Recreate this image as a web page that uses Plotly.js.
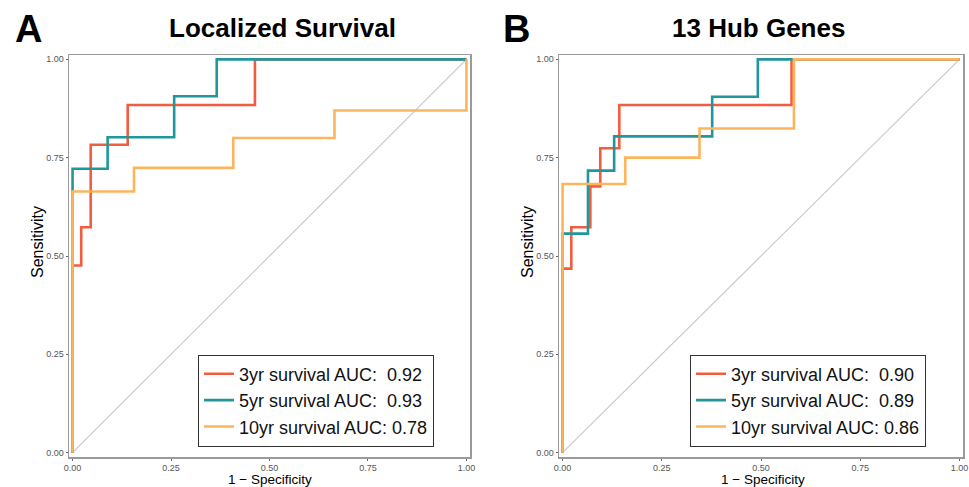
<!DOCTYPE html>
<html><head><meta charset="utf-8">
<script src="https://cdn.plot.ly/plotly-3.0.1.min.js"></script>
<style>html,body{margin:0;padding:0;background:#fff}#chart{width:969px;height:487px}</style>
</head><body><div id="chart"></div>
<script>
// Panel A: Localized Survival ROC points (FPR = 1 - specificity, TPR = sensitivity)
const fprA3 = [0, 0, 0.022, 0.046, 0.14, 0.463, 1];
const tprA3 = [0, 0.476, 0.573, 0.783, 0.884, 1, 1];
const fprA5 = [0, 0, 0.089, 0.258, 0.366, 1];
const tprA5 = [0, 0.722, 0.802, 0.906, 1, 1];
const fprA10 = [0, 0, 0.156, 0.408, 0.665, 1];
const tprA10 = [0, 0.664, 0.724, 0.80, 0.870, 1];
// Panel B: 13 Hub Genes
const fprB3 = [0, 0, 0.022, 0.07, 0.095, 0.143, 0.577, 1];
const tprB3 = [0, 0.468, 0.573, 0.677, 0.774, 0.884, 1, 1];
const fprB5 = [0, 0, 0.064, 0.13, 0.377, 0.492, 1];
const tprB5 = [0, 0.557, 0.717, 0.804, 0.905, 1, 1];
const fprB10 = [0, 0, 0.158, 0.345, 0.583, 1];
const tprB10 = [0, 0.683, 0.750, 0.824, 1, 1];

const labelsA = ["3yr survival AUC:\u00a0\u00a00.92", "5yr survival AUC:\u00a0\u00a00.93", "10yr survival AUC:\u00a00.78"];
const labelsB = ["3yr survival AUC:\u00a0\u00a00.90", "5yr survival AUC:\u00a0\u00a00.89", "10yr survival AUC:\u00a00.86"];
const panelTitles = ["Localized Survival", "13 Hub Genes"];
const panelLetters = ["A", "B"];
const xTitle = "1 \u2212 Specificity";
const yTitle = "Sensitivity";
const tickVals = [0, 0.25, 0.5, 0.75, 1];
const tickText = ["0.00", "0.25", "0.50", "0.75", "1.00"];
const diag = [0, 1];

const colors = ["#f45c3f", "#21979c", "#fdb55c"];
const FONT = "Liberation Sans, Arial, Helvetica, sans-serif";

function rocTrace(x, y, name, color, xa, ya, leg) {
  return {x: x, y: y, name: name, type: "scatter", mode: "lines",
    line: {color: color, width: 2.6, shape: "hv"}, xaxis: xa, yaxis: ya, legend: leg, hoverinfo: "skip"};
}
function diagTrace(xa, ya) {
  return {x: diag, y: diag, type: "scatter", mode: "lines", showlegend: false,
    line: {color: "#c9c9c9", width: 1.2}, xaxis: xa, yaxis: ya, hoverinfo: "skip"};
}

const data = [
  diagTrace("x", "y"),
  rocTrace(fprA3, tprA3, labelsA[0], colors[0], "x", "y", "legend"),
  rocTrace(fprA5, tprA5, labelsA[1], colors[1], "x", "y", "legend"),
  rocTrace(fprA10, tprA10, labelsA[2], colors[2], "x", "y", "legend"),
  diagTrace("x2", "y2"),
  rocTrace(fprB3, tprB3, labelsB[0], colors[0], "x2", "y2", "legend2"),
  rocTrace(fprB5, tprB5, labelsB[1], colors[1], "x2", "y2", "legend2"),
  rocTrace(fprB10, tprB10, labelsB[2], colors[2], "x2", "y2", "legend2")
];

function axisBase(domain, anchor, range) {
  return {domain: domain, anchor: anchor, range: range, tickvals: tickVals, ticktext: tickText,
    showgrid: false, zeroline: false, showline: true, mirror: true, linecolor: "#9a9a9a", linewidth: 1.5,
    ticks: "outside", ticklen: 2, tickcolor: "#666", tickwidth: 1,
    tickfont: {family: FONT, size: 9, color: "#555"}};
}
const yDom = [1 - 457/487, 1 - 55/487];

const legendStyle = {
  bgcolor: "#fff", bordercolor: "#333", borderwidth: 1,
  font: {family: FONT, size: 18, color: "#111"},
  xanchor: "left", yanchor: "middle", tracegroupgap: 0, itemwidth: 30, itemclick: false, itemdoubleclick: false
};

function ann(text, x, y, size, angle) {
  return {text: text, x: x, y: y, xref: "paper", yref: "paper", showarrow: false, textangle: angle || 0,
    borderpad: 0, xanchor: "center", yanchor: "middle", font: {family: FONT, size: size, color: "#000"}};
}

const layout = {
  width: 969, height: 487,
  margin: {l: 0, r: 0, t: 0, b: 0},
  paper_bgcolor: "#fff", plot_bgcolor: "#fff",
  font: {family: FONT},
  xaxis: axisBase([69/969, 470/969], "y", [-0.009, 1.009]),
  yaxis: axisBase(yDom, "x", [-0.011, 1.011]),
  xaxis2: axisBase([559/969, 963/969], "y2", [-0.009, 1.009]),
  yaxis2: axisBase(yDom, "x2", [-0.011, 1.011]),
  legend: Object.assign({x: 198/969, y: 1 - 400.5/487}, legendStyle),
  legend2: Object.assign({x: 690/969, y: 1 - 400.5/487}, legendStyle),
  annotations: [
    ann("<b>" + panelTitles[0] + "</b>", 282/969, 1 - 28/487, 26),
    ann("<b>" + panelTitles[1] + "</b>", 758/969, 1 - 28/487, 26),
    ann("<b>" + panelLetters[0] + "</b>", 28/969, 1 - 29/487, 38),
    ann("<b>" + panelLetters[1] + "</b>", 516/969, 1 - 29/487, 38),
    ann(xTitle, 270/969, 1 - 479/487, 13.5),
    ann(xTitle, 763/969, 1 - 479/487, 13.5),
    ann(yTitle, 38/969, 1 - 242/487, 16, -90),
    ann(yTitle, 528/969, 1 - 242/487, 16, -90)
  ]
};

Plotly.newPlot("chart", data, layout, {displayModeBar: false, staticPlot: true});
</script></body></html>
